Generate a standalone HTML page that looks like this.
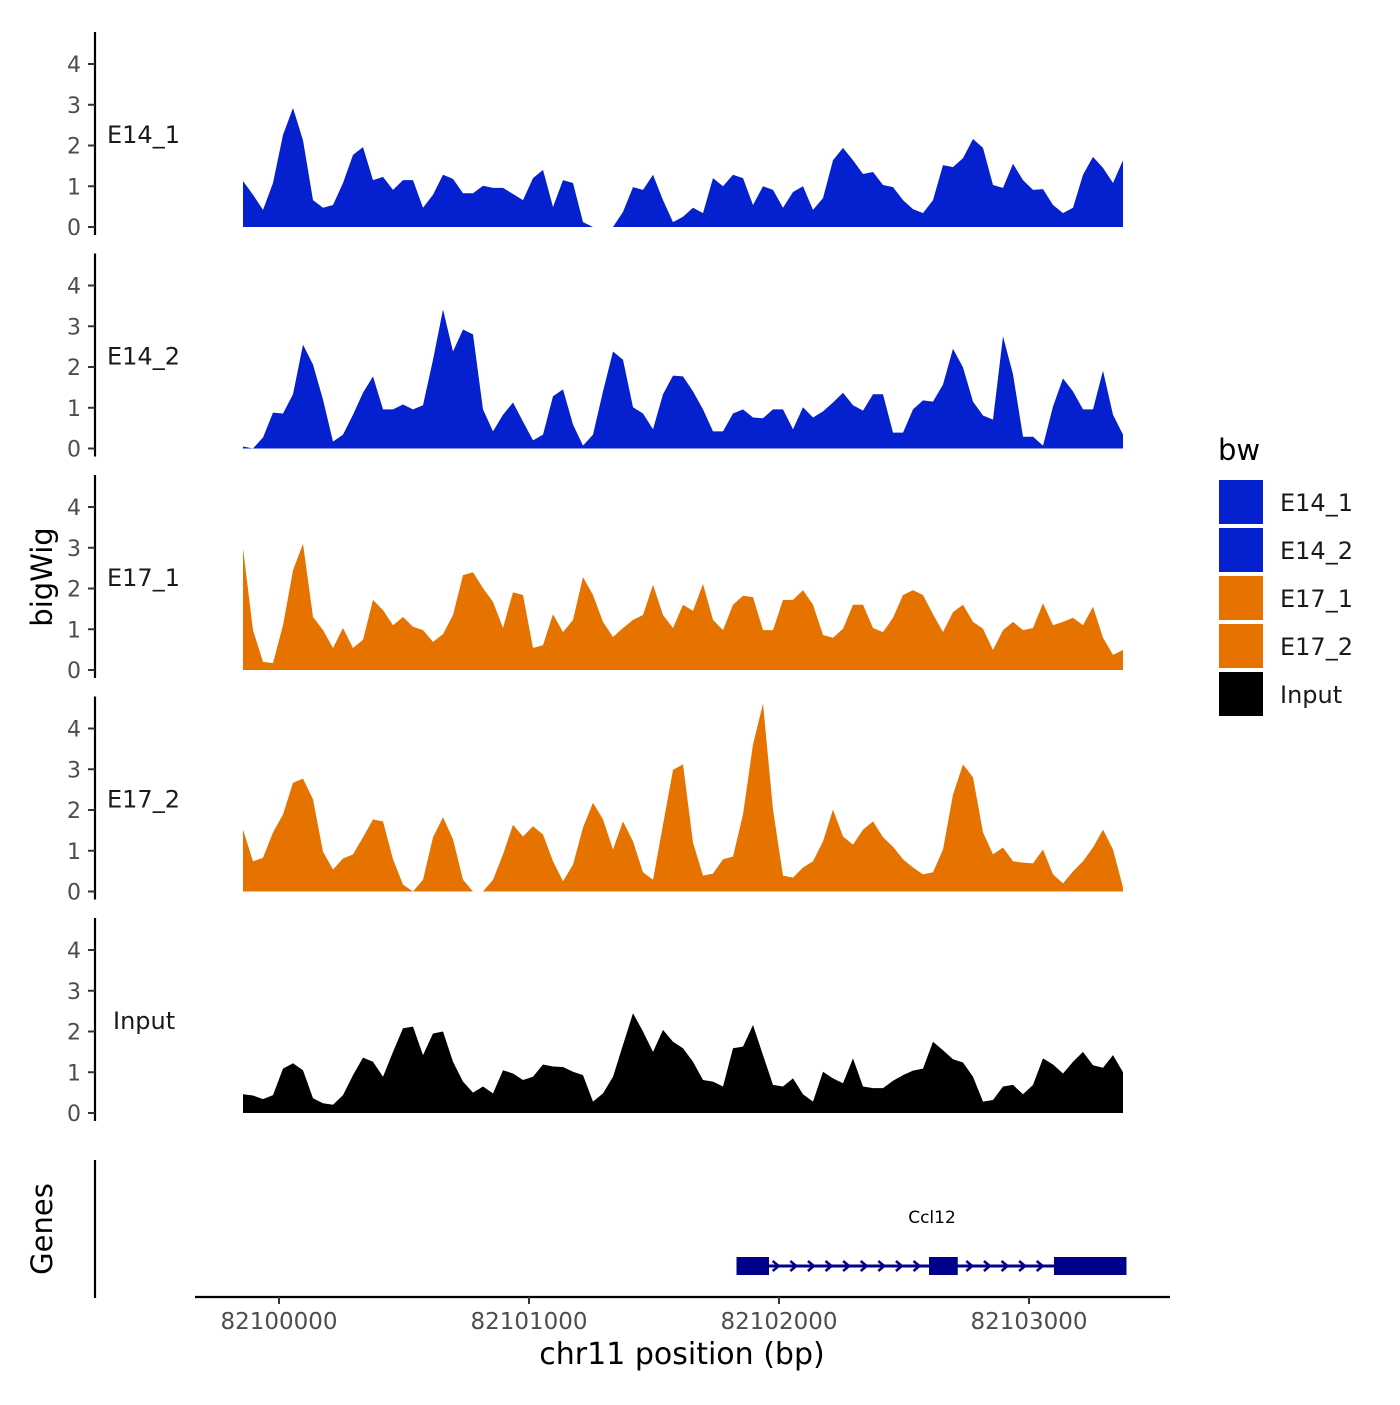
<!DOCTYPE html>
<html><head><meta charset="utf-8"><style>
body{margin:0;background:#fff}
svg text{font-family:"DejaVu Sans","Liberation Sans",sans-serif}
</style></head><body>
<svg id="chart" width="1400" height="1400" viewBox="0 0 1400 1400" xmlns="http://www.w3.org/2000/svg"></svg>
<script>
const trackNames = ["E14_1","E14_2","E17_1","E17_2","Input"];
const trackColors = ["#0420cf","#0420cf","#e67300","#e67300","#000000"];
const gridStart = 82099856, gridStep = 40;
const yTicks = [0,1,2,3,4];
const xTicks = [82100000,82101000,82102000,82103000];
const e14_1 = [1.13,0.79,0.42,1.08,2.26,2.92,2.13,0.66,0.47,0.54,1.08,1.77,1.96,1.15,1.23,0.91,1.15,1.15,0.47,0.79,1.28,1.18,0.83,0.83,1.01,0.96,0.96,0.81,0.66,1.2,1.4,0.49,1.15,1.08,0.12,0,0,0,0.37,0.98,0.91,1.28,0.66,0.12,0.25,0.47,0.34,1.2,1.0,1.28,1.2,0.54,1.0,0.91,0.47,0.86,1.0,0.42,0.71,1.64,1.94,1.64,1.3,1.35,1.03,0.98,0.66,0.44,0.34,0.66,1.52,1.47,1.69,2.16,1.94,1.03,0.96,1.55,1.15,0.91,0.93,0.54,0.34,0.47,1.28,1.72,1.45,1.08,1.64];
const e14_2 = [0.05,0,0.27,0.88,0.86,1.33,2.55,2.06,1.2,0.17,0.34,0.83,1.37,1.77,0.96,0.96,1.08,0.96,1.06,2.18,3.41,2.38,2.92,2.8,0.96,0.42,0.83,1.13,0.66,0.2,0.34,1.28,1.45,0.59,0.07,0.34,1.4,2.38,2.18,1.01,0.86,0.47,1.33,1.79,1.77,1.4,0.96,0.42,0.42,0.86,0.96,0.76,0.74,0.96,0.96,0.47,1.01,0.76,0.91,1.13,1.37,1.06,0.93,1.33,1.33,0.39,0.39,0.96,1.18,1.15,1.57,2.45,1.99,1.15,0.81,0.71,2.75,1.82,0.29,0.29,0.07,1.03,1.72,1.4,0.96,0.96,1.91,0.83,0.34];
const e17_1 = [2.99,0.98,0.2,0.17,1.1,2.45,3.1,1.3,0.98,0.54,1.03,0.54,0.74,1.72,1.47,1.1,1.3,1.06,0.98,0.69,0.88,1.35,2.33,2.4,2.01,1.67,1.03,1.91,1.84,0.54,0.61,1.37,0.93,1.23,2.28,1.84,1.18,0.81,1.03,1.23,1.35,2.09,1.35,1.03,1.6,1.45,2.11,1.23,0.98,1.6,1.82,1.79,0.98,0.98,1.72,1.72,1.96,1.6,0.86,0.79,1.01,1.6,1.6,1.03,0.93,1.28,1.84,1.96,1.84,1.37,0.93,1.42,1.6,1.18,1.01,0.49,0.98,1.18,0.98,1.03,1.64,1.1,1.18,1.28,1.1,1.55,0.79,0.37,0.49];
const e17_2 = [1.52,0.74,0.83,1.45,1.89,2.67,2.77,2.26,0.98,0.54,0.81,0.91,1.33,1.77,1.72,0.79,0.17,0,0.29,1.33,1.82,1.28,0.29,0,0,0.29,0.91,1.64,1.35,1.6,1.4,0.74,0.25,0.66,1.57,2.18,1.77,1.03,1.72,1.23,0.47,0.29,1.64,2.99,3.12,1.2,0.39,0.44,0.79,0.86,1.89,3.61,4.61,2.01,0.39,0.34,0.59,0.74,1.23,2.01,1.35,1.15,1.52,1.72,1.33,1.1,0.79,0.59,0.42,0.47,1.03,2.38,3.12,2.8,1.45,0.91,1.08,0.74,0.71,0.69,1.03,0.42,0.2,0.49,0.74,1.08,1.52,1.03,0.1];
const input = [0.46,0.43,0.34,0.44,1.09,1.22,1.05,0.36,0.24,0.2,0.44,0.93,1.36,1.26,0.89,1.5,2.08,2.12,1.42,1.95,2.0,1.26,0.77,0.5,0.65,0.48,1.05,0.97,0.81,0.89,1.19,1.14,1.13,1.01,0.93,0.28,0.48,0.89,1.67,2.45,2.0,1.5,2.04,1.75,1.59,1.26,0.81,0.77,0.65,1.59,1.63,2.16,1.42,0.69,0.65,0.85,0.46,0.28,1.01,0.85,0.73,1.34,0.65,0.61,0.61,0.79,0.93,1.04,1.09,1.75,1.54,1.32,1.24,0.89,0.28,0.32,0.65,0.69,0.46,0.69,1.34,1.19,0.97,1.26,1.5,1.17,1.11,1.42,1.0];
const trackValues = [e14_1,e14_2,e17_1,e17_2,input];
const geneName = "Ccl12";
const geneStart = 82101830, geneEnd = 82103390;
const exonStarts = [82101830,82102600,82103100];
const exonEnds = [82101960,82102715,82103390];

const NS="http://www.w3.org/2000/svg";
const svg=document.getElementById('chart');
function mk(tag,attrs,parent){const e=document.createElementNS(NS,tag);for(const k in attrs)e.setAttribute(k,attrs[k]);(parent||svg).appendChild(e);return e;}
const xScale = bp => 279 + (bp-82100000)*0.25;
const panelTop0 = 227, panelGap = 221.5, unit = 40.75;

trackNames.forEach((name,p)=>{
  const y0 = panelTop0 + p*panelGap;
  const yScale = v => y0 - v*unit;
  const g = mk('g',{});
  
  
  const vals = trackValues[p];
  let d = 'M'+xScale(gridStart)+','+y0;
  vals.forEach((v,i)=>{ d += ' L'+xScale(gridStart+i*gridStep).toFixed(1)+','+yScale(v).toFixed(1); });
  d += ' L'+xScale(gridStart+(vals.length-1)*gridStep).toFixed(1)+','+y0+' Z';
  const area = mk('path',{d:d,fill:trackColors[p]},g);
  
  
  const ax = mk('line',{x1:95,x2:95,y1:y0-195,y2:y0+8,stroke:'#000','stroke-width':2.2},g);
  
  
  yTicks.forEach(t=>{
    const y = yScale(t);
    mk('line',{x1:88,x2:95,y1:y,y2:y,stroke:'#333','stroke-width':2},g);
    const tx = mk('text',{x:81,y:y+8,'text-anchor':'end','font-size':22,fill:'#4d4d4d'},g);
    tx.textContent = t;
    
    
  });
  const lb = mk('text',{x:name==='Input'?113:107,y:y0-84,'font-size':24,fill:'#1a1a1a'},g);
  lb.textContent = name;
  
  
});

const yt = mk('text',{x:0,y:0,'font-size':29,'text-anchor':'middle',transform:'translate(52,577) rotate(-90)'});
yt.textContent='bigWig';


const gt = mk('text',{x:0,y:0,'font-size':29,'text-anchor':'middle',transform:'translate(52,1229) rotate(-90)'});
gt.textContent='Genes';



const ga = mk('line',{x1:95,x2:95,y1:1160,y2:1298,stroke:'#000','stroke-width':2.2});


const xa = mk('line',{x1:195,x2:1170,y1:1297,y2:1297,stroke:'#000','stroke-width':2.2});


xTicks.forEach(t=>{
  const x=xScale(t);
  mk('line',{x1:x,x2:x,y1:1297,y2:1304,stroke:'#333','stroke-width':2});
  const tx=mk('text',{x:x,y:1329,'text-anchor':'middle','font-size':23,fill:'#4d4d4d'});
  tx.textContent=t;
  
  
});
const xt=mk('text',{x:682,y:1364,'text-anchor':'middle','font-size':30});
xt.textContent='chr11 position (bp)';



const gene = mk('g',{});


const gy=1266;
mk('line',{x1:xScale(geneStart),x2:xScale(geneEnd),y1:gy,y2:gy,stroke:'#00008b','stroke-width':3},gene);
for(let x=xScale(geneStart)+4;x<xScale(geneEnd)-4;x+=17.6){
  mk('path',{d:`M${x-3},${gy-5} L${x+3},${gy} L${x-3},${gy+5}`,stroke:'#00008b','stroke-width':2.5,fill:'none'},gene);
}
exonStarts.forEach((s,i)=>{
  const ex=mk('rect',{x:xScale(s),y:gy-9,width:xScale(exonEnds[i])-xScale(s),height:18,fill:'#00008b'},gene);
  
  
});
const gl=mk('text',{x:932,y:1223,'text-anchor':'middle','font-size':17},gene);
gl.textContent=geneName;



const lg = mk('g',{});


const lt=mk('text',{x:1218,y:460,'font-size':29},lg);
lt.textContent='bw';


trackNames.forEach((n,i)=>{
  const y=480+i*48;
  const ent=mk('g',{},lg);
  
  
  mk('rect',{x:1219,y:y,width:44,height:44,fill:trackColors[i]},ent);
  const t=mk('text',{x:1280,y:y+31,'font-size':24,fill:'#1a1a1a'},ent);
  t.textContent=n;
});
</script>
</body></html>
